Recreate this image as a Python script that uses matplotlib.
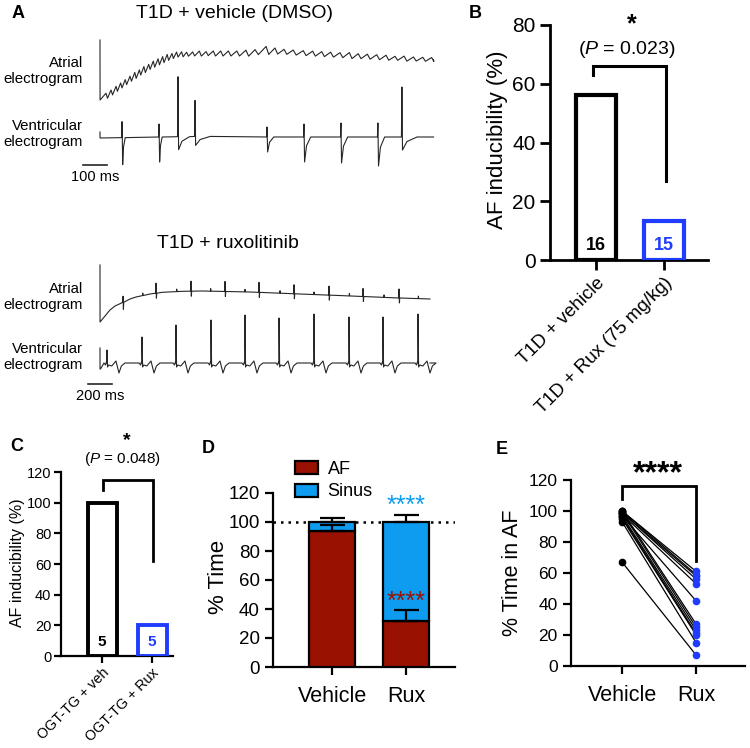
import numpy as np
import matplotlib
matplotlib.use("Agg")
import matplotlib.pyplot as plt
from matplotlib.patches import Patch

plt.rcParams["font.family"] = ["Liberation Sans", "DejaVu Sans"]
plt.rcParams["mathtext.fontset"] = "custom"
plt.rcParams["mathtext.rm"] = "Liberation Sans"
plt.rcParams["mathtext.it"] = "Liberation Sans:italic"

W, H = 750, 748
BLUE = "#1f3cff"
SKY = "#0d9cf0"
RED = "#991100"
INK = "#262626"

# ---------------- panel A: electrogram events (ms, trace units) ----------------
# T1D + vehicle, atrial electrogram (drifting baseline + rapid atrial activity)
a1_base_t = [0, 40, 80, 120, 170, 220, 280, 320, 420, 600, 700, 800, 950, 1100, 1250, 1390]
a1_base_y = [85, 91, 98, 105, 113, 120, 127, 130, 131, 131, 134, 132, 130, 128, 126, 125]
a1_stim = 145
a1_peaks = [25, 46, 67, 86, 105, 125, 145, 164, 183, 203, 222, 242, 261, 280, 300, 319, 340,
            361, 386, 414, 442, 472, 503, 535, 570, 608, 646, 692, 729, 767, 805, 847, 886,
            924, 961, 1000, 1039, 1076, 1114, 1153, 1192, 1229, 1267, 1306, 1345, 1382]
a1_amps = [5, 5, 5, 5, 5, 5, 6, 5, 6, 5, 6, 6, 6, 6, 5, 5, 5,
           4, 4, 5, 4, 5, 5, 5, 5, 6, 5, 8, 6, 5, 5, 5, 5, 5, 5, 5, 6, 5, 5, 5, 5, 4, 5, 4, 4, 4]
a1_end = 1390

# T1D + vehicle, ventricular electrogram
v1_base_t = [0, 500, 700, 1390]
v1_base_y = [47, 49, 48, 48]
v1_step = 6
v1_t = [92, 246, 325, 396, 696, 850, 1004, 1158, 1258]
v1_up = [16, 13, 60, 36, 10, 13, 14, 14, 50]
v1_down = [27, 25, 13, 9, 15, 25, 26, 29, 13]
v1_recover = [10, 10, 45, 60, 25, 25, 25, 25, 60]
v1_end = 1390

# T1D + ruxolitinib, atrial electrogram
a2_base_t = [0, 42, 83, 125, 170, 250, 300, 417, 520, 690, 850, 1250, 1667, 2050, 2450, 2750]
a2_base_y = [78, 84, 90, 94, 96.5, 101, 103, 106, 107.7, 108.7, 109, 108, 106, 104.2, 102.2, 101]
a2_stim = 135
a2_spikes = [192, 467, 758, 1042, 1325, 1617, 1908, 2192, 2492]
a2_up = [6, 10, 10, 10, 10, 9, 9, 8, 9]
a2_down = [7, 5, 5, 5, 5, 5, 5, 5, 5]
a2_blips = [356, 639, 922, 1208, 1500, 1783, 2078, 2367, 2653]
a2_end = 2750

# T1D + ruxolitinib, ventricular electrogram
v2_base = 37
v2_start = [52, 31]
v2_t = [58, 350, 633, 925, 1208, 1492, 1783, 2075, 2358, 2650]
v2_up = [13, 26, 38, 43, 48, 45, 49, 46, 46, 49]
v2_shape_dt = [-25, -12, -5, -2, 0, 5, 15, 40, 75, 100, 120, 150]
v2_shape_dy = [0, -2, 1, 0, 0, -4, -2, -3, 2, -10, -3, 0]
v2_end = 2750

# ---------------- panels B-E ----------------
b_groups = ["T1D + vehicle", "T1D + Rux (75 mg/kg)"]
b_pct = [56.25, 13.3]
b_n = ["16", "15"]

c_groups = ["OGT-TG + veh", "OGT-TG + Rux"]
c_pct = [100, 20]
c_n = ["5", "5"]

d_groups = ["Vehicle", "Rux"]
d_af = [94, 32]
d_af_err = [4, 7]
d_sinus = [6, 68]
d_total_err = [3, 5]

e_groups = ["Vehicle", "Rux"]
e_vehicle = [100, 100, 99, 99, 98, 97, 100, 99, 97, 96, 95, 93, 67]
e_rux = [61, 59, 58, 56, 53, 42, 27, 25, 23, 21, 20, 15, 7]

fig = plt.figure(figsize=(7.5, 7.48), dpi=100)


def fx(x):
    return x / W


def fy(y):
    return 1 - y / H


def px_axes(x0, y0, x1, y1):
    return fig.add_axes([x0 / W, 1 - y1 / H, (x1 - x0) / W, (y1 - y0) / H])


def style(ax, lw, tlen, tsize):
    for s in ["top", "right"]:
        ax.spines[s].set_visible(False)
    for s in ["left", "bottom"]:
        ax.spines[s].set_linewidth(lw)
    ax.tick_params(width=lw, length=tlen, labelsize=tsize, colors="black")


# ----- panel A traces -----
def atrial_flutter():
    t = [0.0, 0.3]
    y = [a1_stim, np.interp(0, a1_base_t, a1_base_y)]
    for i, tp in enumerate(a1_peaks):
        gap = a1_peaks[i + 1] - tp if i + 1 < len(a1_peaks) else 30
        b = np.interp(tp, a1_base_t, a1_base_y)
        t += [tp, tp + 0.3 * gap]
        y += [b + 0.6 * a1_amps[i], b - 0.4 * a1_amps[i]]
    t.append(a1_end)
    y.append(np.interp(a1_end, a1_base_t, a1_base_y))
    return t, y


def ventricular_top():
    b0 = np.interp(0, v1_base_t, v1_base_y)
    t = [0.0, 0.3]
    y = [b0 + v1_step, b0]
    for ts, up, dn, rec in zip(v1_t, v1_up, v1_down, v1_recover):
        b = np.interp(ts, v1_base_t, v1_base_y)
        t += [ts - 2, ts, ts + 2.5, ts + 3 + 0.3 * rec, ts + 3 + rec]
        y += [b, b + up, b - dn, b - 0.35 * dn, b]
    t.append(v1_end)
    y.append(np.interp(v1_end, v1_base_t, v1_base_y))
    return t, y


def atrial_bottom():
    pts = [(0.0, a2_stim), (0.3, a2_base_y[0])]
    pts += list(zip(a2_base_t[1:], a2_base_y[1:]))
    for ts, up, dn in zip(a2_spikes, a2_up, a2_down):
        b = np.interp(ts, a2_base_t, a2_base_y)
        pts += [(ts - 1.5, b), (ts, b + up), (ts + 3, b - dn), (ts + 6, b)]
    for tb in a2_blips:
        b = np.interp(tb, a2_base_t, a2_base_y)
        pts += [(tb - 1, b), (tb, b + 2.5), (tb + 3, b)]
    pts.sort(key=lambda p: p[0])
    return [p[0] for p in pts], [p[1] for p in pts]


def ventricular_bottom():
    t = [0.0, 0.3, 4]
    y = v2_start + [v2_start[1]]
    for ts, up in zip(v2_t, v2_up):
        for dt, dy in zip(v2_shape_dt, v2_shape_dy):
            if ts + dt <= t[-1]:
                continue
            t.append(ts + dt)
            y.append(v2_base + (up if dt == 0 else dy))
    t.append(v2_end)
    y.append(v2_base)
    return t, y


axA1 = px_axes(80, 20, 440, 185)
axA1.set_xlim(-83.3, 1416.7)
axA1.set_ylim(0, 165)
axA1.axis("off")
for tt, yy in [atrial_flutter(), ventricular_top()]:
    axA1.plot(tt, yy, color=INK, lw=0.8)
axA1.plot([-71, 29], [20, 20], color=INK, lw=1.2, clip_on=False)
axA1.text(-21, 8, "100 ms", ha="center", va="center", fontsize=10.5, clip_on=False)

axA2 = px_axes(80, 240, 440, 400)
axA2.set_xlim(-166.7, 2833.3)
axA2.set_ylim(0, 160)
axA2.axis("off")
for tt, yy in [atrial_bottom(), ventricular_bottom()]:
    axA2.plot(tt, yy, color=INK, lw=0.8)
axA2.plot([-100, 100], [16, 16], color=INK, lw=1.2, clip_on=False)
axA2.text(0, 4, "200 ms", ha="center", va="center", fontsize=10.5, clip_on=False)

fig.text(fx(234), fy(14), "T1D + vehicle (DMSO)", ha="center", va="center", fontsize=14)
fig.text(fx(228), fy(243), "T1D + ruxolitinib", ha="center", va="center", fontsize=14)
for yc, lab in [(71, "Atrial\nelectrogram"), (134, "Ventricular\nelectrogram"),
                (297, "Atrial\nelectrogram"), (357, "Ventricular\nelectrogram")]:
    fig.text(fx(83), fy(yc), lab, ha="right", va="center", fontsize=10.8, linespacing=1.2)

# ----- panel B -----
axB = px_axes(550, 25, 708, 260)
style(axB, 2, 7, 15)
axB.bar([0, 1], b_pct, width=0.6, color="white", edgecolor=["black", BLUE], linewidth=3, zorder=3)
axB.set_ylim(0, 80)
axB.set_yticks([0, 20, 40, 60, 80])
axB.set_xlim(-0.676, 1.647)
axB.set_xticks([0, 1])
axB.set_xticklabels(b_groups, rotation=45, ha="right", rotation_mode="anchor", fontsize=13.5)
for i, (n, c) in enumerate(zip(b_n, ["black", BLUE])):
    axB.text(i, 5, n, ha="center", va="center", fontsize=13, fontweight="bold", color=c, zorder=4)
axB.plot([-0.05, -0.05, 1.03, 1.03], [63, 66, 66, 27], color="black", lw=2.2, solid_joinstyle="miter")
fig.text(fx(632), fy(24), "*", ha="center", va="center", fontsize=18, fontweight="bold")
fig.text(fx(627), fy(49), r"($\mathit{P}$ = 0.023)", ha="center", va="center", fontsize=14)
fig.text(fx(498), fy(140), "AF inducibility (%)", rotation=90, ha="center", va="center", fontsize=16)

# ----- panel C -----
axC = px_axes(61, 472, 173, 656)
style(axC, 1.6, 5, 10.5)
axC.tick_params(axis="y", pad=2)
axC.tick_params(axis="x", pad=2)
axC.bar([0, 1], c_pct, width=0.58, color="white", edgecolor=["black", BLUE], linewidth=2.8, zorder=3)
axC.set_ylim(0, 120)
axC.set_yticks(range(0, 121, 20))
axC.set_xlim(-0.82, 1.42)
axC.set_xticks([0, 1])
axC.set_xticklabels(c_groups, rotation=45, ha="right", rotation_mode="anchor", fontsize=10.3)
for i, (n, c) in enumerate(zip(c_n, ["black", BLUE])):
    axC.text(i, 9, n, ha="center", va="center", fontsize=11, fontweight="bold", color=c, zorder=4)
axC.plot([0.02, 0.02, 1.02, 1.02], [108, 115, 115, 62], color="black", lw=2, solid_joinstyle="miter")
fig.text(fx(127), fy(441), "*", ha="center", va="center", fontsize=14, fontweight="bold")
fig.text(fx(122), fy(459), r"($\mathit{P}$ = 0.048)", ha="center", va="center", fontsize=11)
fig.text(fx(18), fy(563), "AF inducibility (%)", rotation=90, ha="center", va="center", fontsize=11.5)

# ----- panel D -----
axD = px_axes(273, 493, 455, 667)
style(axD, 1.6, 6, 13.5)
xd = np.arange(len(d_groups))
axD.axhline(100, color="black", lw=1.8, ls=(0, (1, 2)), zorder=1)
axD.bar(xd, d_af, width=0.62, color=RED, edgecolor="black", linewidth=1.6, zorder=3, label="AF")
axD.bar(xd, d_sinus, bottom=d_af, width=0.62, color=SKY, edgecolor="black", linewidth=1.6,
        zorder=3, label="Sinus")
axD.errorbar(xd, d_af, yerr=[[0, 0], d_af_err], fmt="none", ecolor="black", elinewidth=1.6,
             capsize=9, capthick=1.6, zorder=4)
tot = np.array(d_af) + np.array(d_sinus)
axD.errorbar(xd, tot, yerr=[[0, 0], d_total_err], fmt="none", ecolor="black", elinewidth=1.6,
             capsize=9, capthick=1.6, zorder=4)
axD.set_ylim(0, 120)
axD.set_yticks(range(0, 121, 20))
axD.set_xlim(-0.797, 1.66)
axD.set_xticks(xd)
axD.set_xticklabels(d_groups, fontsize=15.5)
axD.tick_params(axis="x", pad=8)
axD.text(1, 111, "****", ha="center", va="center", fontsize=18, color=SKY)
axD.text(1, 45, "****", ha="center", va="center", fontsize=18, color=RED)
handles = [Patch(facecolor=RED, edgecolor="black", linewidth=1.6, label="AF"),
           Patch(facecolor=SKY, edgecolor="black", linewidth=1.6, label="Sinus")]
fig.legend(handles=handles, loc="upper left", bbox_to_anchor=(fx(295), fy(461)), frameon=False,
           fontsize=13, handlelength=1.3, handleheight=0.75, handletextpad=0.5,
           labelspacing=0.3, borderpad=0, borderaxespad=0)
fig.text(fx(218), fy(577), "% Time", rotation=90, ha="center", va="center", fontsize=16)

# ----- panel E -----
axE = px_axes(571, 480, 745, 666)
style(axE, 1.6, 6, 12.5)
for v, r in zip(e_vehicle, e_rux):
    axE.plot([0, 1], [v, r], color="black", lw=0.9, zorder=2)
axE.plot(np.zeros(len(e_vehicle)), e_vehicle, "o", color="black", ms=4.5, zorder=3, clip_on=False)
axE.plot(np.ones(len(e_rux)), e_rux, "o", color=BLUE, ms=4.5, zorder=3, clip_on=False)
axE.plot([0, 0, 1, 1], [108, 116, 116, 68], color="black", lw=2, solid_joinstyle="miter")
axE.set_ylim(0, 120)
axE.set_yticks(range(0, 121, 20))
axE.set_xlim(-0.69, 1.66)
axE.set_xticks([0, 1])
axE.set_xticklabels(e_groups, fontsize=15.5)
axE.tick_params(axis="x", pad=8)
fig.text(fx(658), fy(474), "****", ha="center", va="center", fontsize=23, fontweight="bold")
fig.text(fx(512), fy(573), "% Time in AF", rotation=90, ha="center", va="center", fontsize=15.5)

# ----- panel letters -----
for lab, x, y in [("A", 18, 13), ("B", 475, 13), ("C", 17, 446), ("D", 208, 449), ("E", 502, 450)]:
    fig.text(fx(x), fy(y), lab, ha="center", va="center", fontsize=13, fontweight="bold")

fig.savefig("out.png", dpi=100, facecolor="white")
